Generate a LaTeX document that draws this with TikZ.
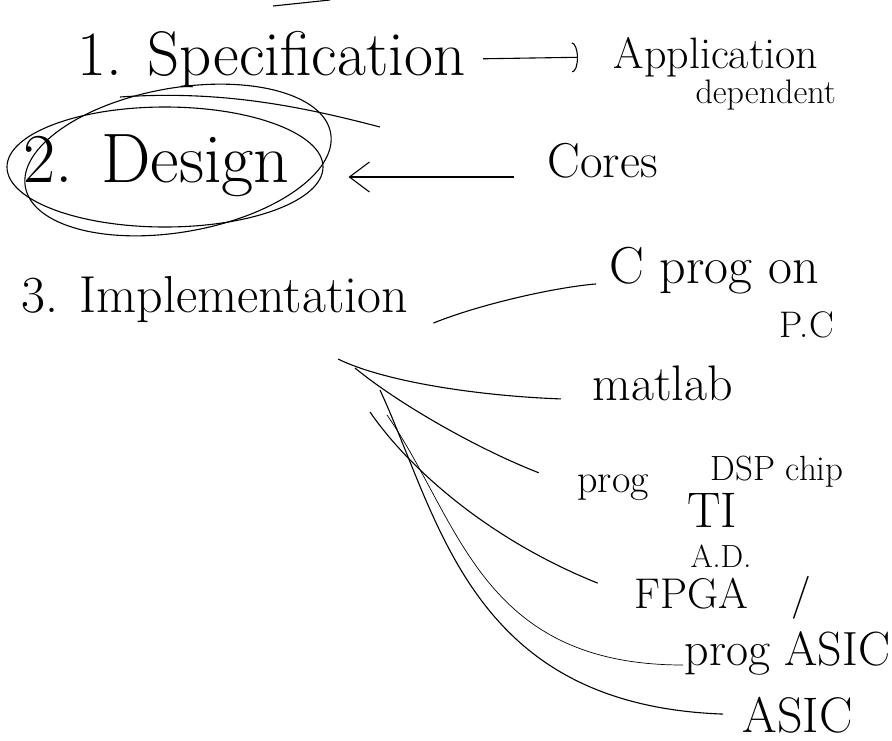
\documentclass[tikz,border=0pt]{standalone}
\usepackage{fontspec}
\usetikzlibrary{calc,shapes.geometric,arrows.meta}
\begin{document}
\begin{tikzpicture}[x=1pt,y=-1pt,line width=1.1pt]
            \tikzset{
                word/.style={anchor=base west,inner sep=1pt,font=\fontsize{#1}{#1}\selectfont},
                ring/.style={draw,ellipse,inner sep=0pt},}
            \useasboundingbox (0,0) rectangle (892,740);
            % the three steps
            \node[word=63] (spec) at (76,75) {1. Specification};
            \node[word=70] (design) at (22,182) {2. Design};
            \node[word=52] (impl) at (20,312) {3. Implementation};
            \node[ring,minimum width=316pt,minimum height=120pt] (ring) at (165,167) {};
            \node[ring,minimum width=310pt,minimum height=144pt,rotate=10] (ring2) at (178,160) {};
            \draw (120,97) .. controls (220,90) and (300,106) .. (380,127);
            \draw (273,6) -- (330,0);
            % notes on the right
            \node[word=44] (app) at (612,68) {Application};
            \node[word=34] (dep) at (694,103) {dependent};
            \node[word=49] (cores) at (546,177) {Cores};
            \node[word=52] (cprog) at (608,283) {C prog on};
            \node[word=37] (pc) at (778,337) {P.C};
            \node[word=50] (matlab) at (591,400) {matlab};
            \node[word=40] (prog) at (576,492) {prog};
            \node[word=35] (dsp) at (709,480) {DSP chip};
            \node[word=50] (ti) at (686,527) {TI};
            \node[word=32] (ad) at (689,567) {A.D.};
            \node[word=43] (fpga) at (633,608) {FPGA\quad/};
            \node[word=48] (pasic) at (683,665) {prog ASIC};
            \node[word=50] (asic) at (741,732) {ASIC};
            \draw[-{Arc Barb[length=6pt,width=30pt]},shorten <=16pt,shorten >=34pt] (spec.east) -- (app.west);
            \draw[-{Straight Barb[length=20pt,width=30pt]},shorten <=32pt,shorten >=25pt] (cores.base west) -- (cores.base west -| ring.east);
            \draw[shorten >=12pt] ($(impl.east)+(24,24)$) .. controls +(50,-20) and +(-50,4) .. (cprog.base west);
            % fan of ways to implement
            \coordinate (mat0) at (338,359);
            \coordinate (dsp0) at (355,368);
            \coordinate (fpga0) at (370,412);
            \coordinate (pasic0) at (387,415);
            \coordinate (asic0) at (380,390);
            \draw[shorten >=30pt] (mat0) .. controls (385,382) and (480,396) .. (matlab.base west);
            \draw[shorten >=40pt] (dsp0) .. controls (400,405) and (480,450) .. (prog.west);
            \draw[shorten >=38pt] (fpga0) .. controls (410,470) and (490,540) .. (fpga.west);
            \draw[line width=0.7pt] (pasic0) .. controls (460,520) and (480,665) .. (pasic.base west);
            \draw[shorten >=18pt] (asic0) .. controls (440,520) and (470,705) .. (asic.west);
        \end{tikzpicture}
\end{document}
